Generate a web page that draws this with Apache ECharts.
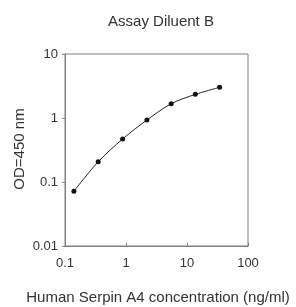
<!DOCTYPE html>
<html>
<head>
<meta charset="utf-8">
<script src="https://cdn.jsdelivr.net/npm/echarts@6/dist/echarts.min.js"></script>
<style>
  html, body { margin: 0; padding: 0; background: #fff; }
  #chart { width: 296px; height: 307px; }
</style>
</head>
<body>
<div id="chart"></div>
<script>
// standard curve
const concentration = [0.14, 0.35, 0.88, 2.2, 5.5, 13.7, 34.3];
const od450 = [0.072, 0.207, 0.47, 0.93, 1.67, 2.34, 3.02];
const xTicks = [0.1, 1, 10, 100];
const yTicks = [0.01, 0.1, 1, 10];

const chart = echarts.init(document.getElementById("chart"));
const font = "Liberation Sans, Arial, sans-serif";
const axisGray = "#7f7f7f";

chart.setOption({
  animation: false,
  title: {
    text: "Assay Diluent B",
    left: 156,
    top: 9,
    textAlign: "center",
    textStyle: { fontFamily: font, fontSize: 15, fontWeight: "normal", color: "#333" }
  },
  grid: { left: 65, right: 48, top: 54, bottom: 61, show: true, borderColor: axisGray, borderWidth: 1 },
  xAxis: {
    type: "log",
    logBase: 10,
    min: 0.1,
    max: 100,
    axisLine: { lineStyle: { color: axisGray } },
    axisTick: { inside: true, length: 3, lineStyle: { color: axisGray } },
    splitLine: { show: false },
    axisLabel: {
      margin: 11,
      fontFamily: font,
      fontSize: 13,
      color: "#333",
      formatter: v => (xTicks.includes(+v) ? String(v) : "")
    }
  },
  yAxis: {
    type: "log",
    logBase: 10,
    min: 0.01,
    max: 10,
    axisLine: { show: true, lineStyle: { color: axisGray } },
    axisTick: { show: true, length: 3, lineStyle: { color: axisGray } },
    splitLine: { show: false },
    axisLabel: {
      margin: 7,
      fontFamily: font,
      fontSize: 13,
      color: "#333",
      formatter: v => (yTicks.includes(+v) ? String(v) : "")
    }
  },
  graphic: [
    {
      type: "text",
      x: 20,
      y: 149,
      rotation: Math.PI / 2,
      style: {
        text: "OD=450 nm",
        fill: "#333",
        font: "15px " + font,
        textAlign: "center",
        textVerticalAlign: "middle"
      }
    },
    {
      type: "text",
      x: 158,
      y: 298,
      style: {
        text: "Human Serpin A4 concentration (ng/ml)",
        fill: "#333",
        font: "15px " + font,
        textAlign: "center",
        textVerticalAlign: "middle"
      }
    }
  ],
  series: [
    {
      type: "line",
      data: concentration.map((c, i) => [c, od450[i]]),
      smooth: 0.3,
      symbol: "circle",
      symbolSize: 5,
      itemStyle: { color: "#111" },
      lineStyle: { color: "#222", width: 1 }
    }
  ]
});
</script>
</body>
</html>
